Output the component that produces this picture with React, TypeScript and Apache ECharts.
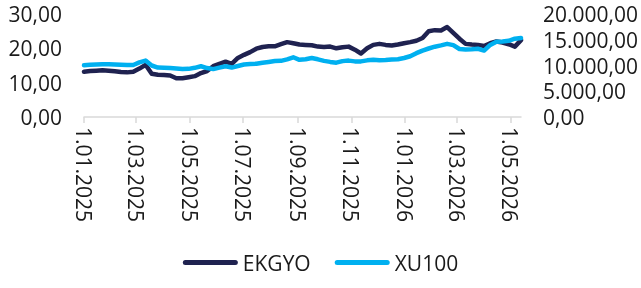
import React, { useEffect, useRef } from "react";
import * as echarts from "echarts";

// Weekly observations starting 1 Jan 2025
const startDate = "2025-01-01";
const endDate = "2026-05-13";

const ekgyoValues = [
  13.2, 13.4, 13.5, 13.6, 13.5, 13.3, 13.1, 13.0, 13.2, 14.1,
  15.2, 12.6, 12.3, 12.2, 12.1, 11.3, 11.3, 11.6, 11.9, 12.8,
  13.4, 14.8, 15.5, 16.1, 15.5, 17.2, 18.1, 18.9, 19.9, 20.4,
  20.6, 20.6, 21.2, 21.8, 21.5, 21.1, 21.0, 20.9, 20.5, 20.4,
  20.5, 20.0, 20.3, 20.5, 19.6, 18.5, 20.0, 21.0, 21.3, 21.0,
  20.8, 21.1, 21.5, 21.8, 22.2, 23.0, 25.0, 25.3, 25.2, 26.2,
  24.5, 22.8, 21.3, 21.1, 21.0, 20.7, 21.5, 22.0, 21.7, 21.2,
  20.5, 22.4,
];

const xu100Values = [
  10040, 10150, 10200, 10230, 10230, 10200, 10150, 10080, 10100, 10600,
  10950, 10000, 9600, 9550, 9500, 9400, 9300, 9350, 9550, 9850,
  9500, 9300, 9580, 9850, 9600, 9900, 10200, 10300, 10350, 10550,
  10700, 10860, 10900, 11200, 11600, 11100, 11200, 11450, 11200, 10900,
  10700, 10550, 10850, 10950, 10800, 10800, 11000, 11100, 11000, 11050,
  11150, 11200, 11450, 11800, 12400, 12900, 13300, 13650, 13900, 14200,
  13950, 13200, 13100, 13150, 13250, 12900, 14000, 14600, 14650, 14800,
  15200, 15350,
];

const tickDates = [
  "2025-01-01", "2025-03-01", "2025-05-01", "2025-07-01", "2025-09-01",
  "2025-11-01", "2026-01-01", "2026-03-01", "2026-05-01",
];

const seriesNames = ["EKGYO", "XU100"];

const DAY = 86400000;
function ts(s: string) {
  const [y, m, d] = s.split("-").map(Number);
  return Date.UTC(y, m - 1, d);
}
function weeklyDates(n: number) {
  const base = ts(startDate);
  const out: number[] = [];
  for (let i = 0; i < n; i++) out.push(base + i * 7 * DAY);
  return out;
}
function fmtNum(v: number) {
  const s = Math.round(v).toString().replace(/\B(?=(\d{3})+(?!\d))/g, ".");
  return s + ",00";
}
function fmtDate(v: number) {
  const d = new Date(v);
  const day = d.getUTCDate();
  const m = d.getUTCMonth() + 1;
  return day + "." + (m < 10 ? "0" + m : m) + "." + d.getUTCFullYear();
}

const FONT = "Open Sans";
const TEXT = "#1a1a1a";

export default function App() {
  const ref = useRef<HTMLDivElement>(null);
  useEffect(() => {
    if (!ref.current) return;
    const chart = echarts.init(ref.current, undefined, { renderer: "svg" });
    const dates = weeklyDates(ekgyoValues.length);
    const ticks = tickDates.map(ts);
    chart.setOption({
      animation: false,
      textStyle: { fontFamily: FONT },
      grid: { left: 84, right: 120, top: 14, bottom: 171 },
      legend: {
        data: seriesNames,
        bottom: 10,
        left: "center",
        itemWidth: 55,
        itemHeight: 5,
        itemGap: 24,
        icon: "path://M2.5,0 L52.5,0 A2.5,2.5 0 0 1 52.5,5 L2.5,5 A2.5,2.5 0 0 1 2.5,0 Z",
        textStyle: { fontSize: 21, color: TEXT, fontFamily: FONT },
      },
      xAxis: {
        type: "value",
        min: ts(startDate),
        max: ts(endDate),
        axisLine: { show: true, lineStyle: { color: "#d9d9d9", width: 1.5 } },
        axisTick: {
          show: true,
          length: 6,
          customValues: ticks,
          lineStyle: { color: "#d9d9d9", width: 1.5 },
        },
        splitLine: { show: false },
        axisLabel: {
          customValues: ticks,
          rotate: -90,
          margin: 10,
          fontSize: 21,
          color: TEXT,
          fontFamily: FONT,
          formatter: (v: number) => fmtDate(v),
        },
      },
      yAxis: [
        {
          type: "value",
          min: 0,
          max: 30,
          interval: 10,
          axisLine: { show: false },
          axisTick: { show: false },
          splitLine: { show: false },
          axisLabel: {
            margin: 22,
            fontSize: 21,
            lineHeight: 21,
            color: TEXT,
            fontFamily: FONT,
            formatter: (v: number) => v.toFixed(2).replace(".", ","),
          },
        },
        {
          type: "value",
          min: 0,
          max: 20000,
          interval: 5000,
          position: "right",
          axisLine: { show: false },
          axisTick: { show: false },
          splitLine: { show: false },
          axisLabel: {
            margin: 22,
            fontSize: 21,
            lineHeight: 21,
            color: TEXT,
            fontFamily: FONT,
            formatter: (v: number) => fmtNum(v),
          },
        },
      ],
      series: [
        {
          name: seriesNames[0],
          type: "line",
          yAxisIndex: 0,
          showSymbol: false,
          symbol: "none",
          color: "#1f2250",
          lineStyle: { width: 4.5, color: "#1f2250", cap: "round", join: "round" },
          data: dates.map((d, i) => [d, ekgyoValues[i]]),
        },
        {
          name: seriesNames[1],
          type: "line",
          yAxisIndex: 1,
          showSymbol: false,
          symbol: "none",
          color: "#00b0f0",
          lineStyle: { width: 4.5, color: "#00b0f0", cap: "round", join: "round" },
          data: dates.map((d, i) => [d, xu100Values[i]]),
        },
      ],
    });
    return () => chart.dispose();
  }, []);
  return (
    <div
      ref={ref}
      style={{ position: "fixed", left: 0, top: 0, width: 641, height: 288 }}
    />
  );
}
